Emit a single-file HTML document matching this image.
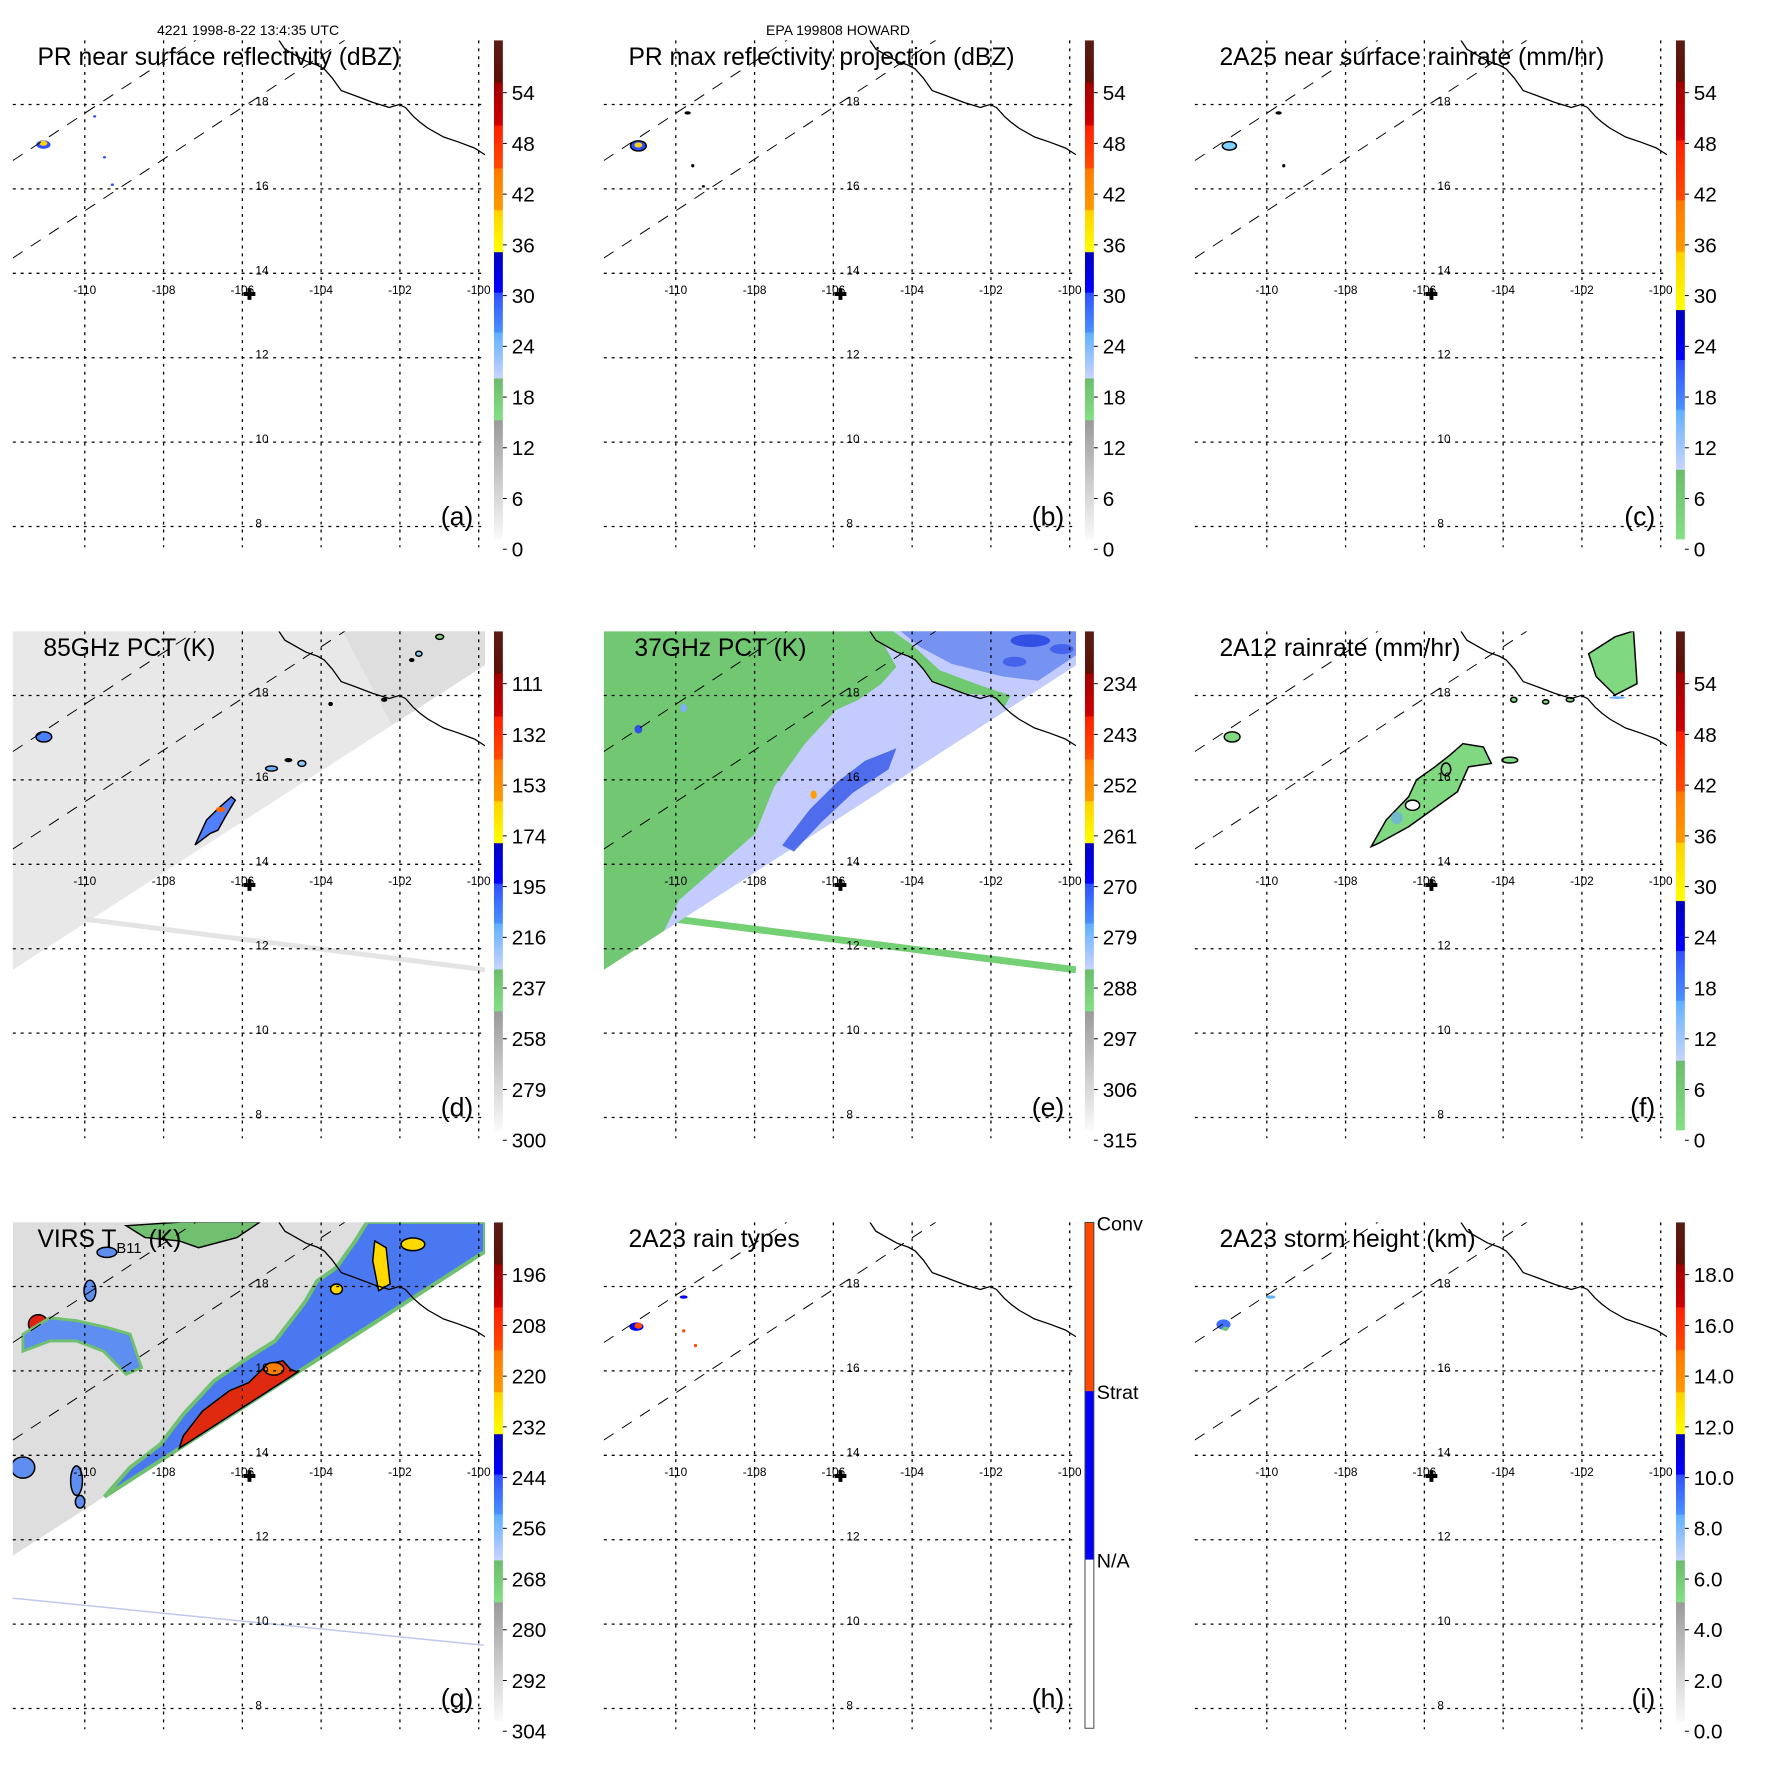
<!DOCTYPE html>
<html><head><meta charset="utf-8"><style>
html,body{margin:0;padding:0;background:#fff}
svg{display:block;font-family:"Liberation Sans",sans-serif}
</style></head><body>
<svg id="fig" width="1771" height="1771" viewBox="0 0 1771 1771" xmlns="http://www.w3.org/2000/svg">
<defs id="defs"></defs>
<text x="248" y="35" font-size="14" text-anchor="middle">4221 1998-8-22 13:4:35 UTC</text>
<text x="838" y="35" font-size="14" text-anchor="middle">EPA 199808 HOWARD</text>
</svg>
<script>
// ---------- data ----------
const lonTicks = [-110,-108,-106,-104,-102,-100];
const latTicks = [18,16,14,12,10,8];
const titles = ["PR near surface reflectivity (dBZ)","PR max reflectivity projection (dBZ)","2A25 near surface rainrate (mm/hr)",
 "85GHz PCT (K)","37GHz PCT (K)","2A12 rainrate (mm/hr)","VIRS T_B11 (K)","2A23 rain types","2A23 storm height (km)"];
const letters = ["(a)","(b)","(c)","(d)","(e)","(f)","(g)","(h)","(i)"];
const labelsA = ["54","48","42","36","30","24","18","12","6","0"];
const labelsD = ["111","132","153","174","195","216","237","258","279","300"];
const labelsE = ["234","243","252","261","270","279","288","297","306","315"];
const labelsG = ["196","208","220","232","244","256","268","280","292","304"];
const labelsI = ["18.0","16.0","14.0","12.0","10.0","8.0","6.0","4.0","2.0","0.0"];
const labelsH = ["Conv","Strat","N/A"];
const panelLabels = [labelsA,labelsA,labelsA,labelsD,labelsE,labelsA,labelsG,labelsH,labelsI];
const barTypes = ["A","A","C","A","A","C","A","H","A"];
const coastLon = [-105.07,-104.92,-104.39,-104.09,-103.92,-103.72,-103.49,-103.14,-102.69,-102.27,-102.02,-101.86,-101.66,-101.49,-101.29,-100.89,-100.51,-100.11,-99.84];
const coastLat = [19.52,19.31,19.03,18.93,18.84,18.63,18.33,18.21,18.05,17.93,18.0,17.93,17.72,17.58,17.44,17.23,17.11,16.97,16.81];
const swathUpper = [[-111.83,16.67],[-107.17,19.53]];
const swathLower = [[-111.83,14.36],[-103.39,19.53]];
const center = [-105.82,13.51];

const stopsA=[[0,"#5a1c16"],[.084,"#5c1008"],[.085,"#a00000"],[.17,"#d00000"],[.171,"#ff2000"],[.256,"#ff4a00"],[.257,"#ff7800"],[.34,"#ff9a00"],[.341,"#ffd200"],[.424,"#ffff00"],[.425,"#0000c0"],[.505,"#0000ff"],[.506,"#3050ff"],[.585,"#4a90ff"],[.586,"#60b0ff"],[.677,"#c8d4ff"],[.678,"#6cbc6c"],[.761,"#84e084"],[.762,"#9a9a9a"],[1,"#fafafa"]];
const stopsC=[[0,"#5a1c16"],[.082,"#5c1008"],[.083,"#a00000"],[.2,"#d00000"],[.201,"#ff2000"],[.32,"#ff4a00"],[.321,"#ff7800"],[.423,"#ff9a00"],[.424,"#ffd200"],[.54,"#ffff00"],[.541,"#0000c0"],[.64,"#0000ff"],[.641,"#3050ff"],[.74,"#4a90ff"],[.741,"#60b0ff"],[.86,"#c8d4ff"],[.861,"#6cbc6c"],[1,"#84e084"]];
const stopsH=[[0,"#ff4a00"],[.333,"#ff4a00"],[.334,"#0000ff"],[.666,"#0000ff"],[.667,"#ffffff"],[1,"#ffffff"]];

// features per panel: polygons / ellipses in lon-lat
const F = [
 [ {e:[-111.05,17.05,.18,.1],f:"#3050ff"},{e:[-111.05,17.08,.1,.06],f:"#ffd200"},{e:[-109.75,17.72,.04,.03],f:"#3050ff"},{e:[-109.5,16.75,.04,.03],f:"#3050ff"},{e:[-109.3,16.1,.04,.03],f:"#3050ff"}],
 [ {e:[-110.95,17.02,.2,.12],f:"#3050ff",s:"#000"},{e:[-110.95,17.04,.1,.06],f:"#ffd200"},{e:[-109.7,17.8,.08,.04],f:"#000"},{e:[-109.57,16.55,.04,.04],f:"#000"},{e:[-109.3,16.06,.04,.03],f:"#000"}],
 [ {e:[-110.95,17.02,.18,.1],f:"#80d0ff",s:"#000"},{e:[-109.7,17.8,.08,.04],f:"#000"},{e:[-109.57,16.55,.04,.04],f:"#000"}],
 [ {p:[[-107.2,14.46],[-106.91,15.05],[-106.57,15.36],[-106.28,15.6],[-106.18,15.52],[-106.43,15.13],[-106.62,14.81],[-106.82,14.73]],f:"#5080ff",s:"#000"},
   {e:[-106.55,15.3,.12,.06],f:"#ff6000"},{e:[-111.04,17.02,.2,.12],f:"#4a80ff",s:"#000"},
   {e:[-105.26,16.27,.15,.06],f:"#6ab0ff",s:"#000"},{e:[-104.49,16.39,.1,.07],f:"#90c8ff",s:"#000"},{e:[-104.83,16.47,.1,.05],f:"#000"},
   {e:[-100.99,19.39,.1,.06],f:"#80d080",s:"#000"},{e:[-101.52,18.99,.08,.06],f:"#80d0ff",s:"#000"},{e:[-101.7,18.84,.07,.05],f:"#000"},
   {e:[-103.76,17.8,.06,.05],f:"#000"},{e:[-102.4,17.9,.08,.05],f:"#000"}],
 [ {p:[[-110.3,12.42],[-109.92,13.15],[-108.95,13.94],[-107.98,14.73],[-107.5,15.84],[-106.72,16.86],[-105.94,17.65],[-105.36,17.9],[-104.78,18.28],[-104.4,18.68],[-104.78,19.31],[-104.97,19.53],[-99.84,19.53],[-99.84,18.72]],f:"#c4ccff"},
   {p:[[-105.07,19.53],[-104.92,19.31],[-104.39,19.03],[-103.92,18.84],[-103.49,18.33],[-102.69,18.05],[-102.02,18.0],[-101.66,17.72],[-101.5,18.0],[-102.3,18.25],[-103.3,18.6],[-104.0,19.2],[-104.5,19.53]],f:"#70c870"},
   {p:[[-104.3,19.53],[-99.84,19.53],[-99.84,18.95],[-100.8,18.35],[-101.7,18.45],[-103,18.75],[-103.8,19.15]],f:"#6a88f0",o:.85},
   {e:[-101,19.3,.5,.15],f:"#2040e0",o:.8},{e:[-101.4,18.8,.3,.12],f:"#3050e8",o:.7},{e:[-100.2,19.1,.3,.12],f:"#3050e8",o:.7},
   {p:[[-107.3,14.45],[-106.6,15.3],[-105.9,15.95],[-105.2,16.45],[-104.4,16.75],[-104.6,16.25],[-105.5,15.7],[-106.3,15.0],[-107.0,14.3]],f:"#3a5ae8",o:.85},
   {e:[-106.5,15.65,.08,.1],f:"#ffa000"},{e:[-110.95,17.2,.1,.1],f:"#3050e8"},{e:[-109.8,17.7,.08,.1],f:"#80b0ff"}],
 [ {p:[[-107.35,14.42],[-106.97,15.05],[-106.4,15.6],[-106.2,16.0],[-105.73,16.31],[-105.35,16.59],[-105.02,16.86],[-104.5,16.78],[-104.3,16.39],[-104.88,16.31],[-105.16,15.72],[-106.4,14.89],[-107.16,14.5]],f:"#80d880",s:"#000"},
   {e:[-106.3,15.4,.18,.12],f:"#fff",s:"#000"},{e:[-105.45,16.25,.12,.15],f:"#80d880",s:"#000"},{e:[-106.7,15.1,.15,.15],f:"#6aa8ff",o:.6},
   {p:[[-101.83,18.99],[-101.16,19.39],[-100.69,19.53],[-100.6,18.28],[-101.16,18.01],[-101.64,18.45]],f:"#80d880",s:"#000"},
   {e:[-110.88,17.02,.2,.12],f:"#80d880",s:"#000"},{e:[-103.73,17.9,.08,.06],f:"#80d880",s:"#000"},{e:[-102.92,17.85,.08,.05],f:"#80d880",s:"#000"},{e:[-102.3,17.9,.1,.05],f:"#80d880",s:"#000"},
   {e:[-103.83,16.47,.2,.07],f:"#80d880",s:"#000"},{e:[-101.1,17.95,.2,.03],f:"#6ab0ff"}],
 [ {p:[[-109.5,13.02],[-108.85,13.71],[-108.08,14.26],[-107.5,14.97],[-106.72,15.76],[-105.84,16.32],[-105.17,16.71],[-104.58,17.42],[-104.39,17.66],[-104.1,18.13],[-103.61,18.45],[-103.13,19.08],[-102.83,19.53],[-99.84,19.53],[-99.84,18.83]],f:"#4a78f0",s:"#70c070",w:4},
   {p:[[-107.5,14.46],[-107.01,15.05],[-106.33,15.53],[-105.84,15.72],[-105.36,16.16],[-104.97,16.24],[-104.78,16.04],[-104.6,15.97],[-107.6,14.17]],f:"#e02a10",s:"#000"},
   {e:[-105.2,16.05,.25,.15],f:"#ff8000",s:"#000"},
   {e:[-111.18,17.11,.25,.22],f:"#e02010",s:"#000"},
   {p:[[-111.57,16.87],[-110.89,17.26],[-110.21,17.19],[-109.44,17.03],[-108.85,16.87],[-108.56,16.08],[-108.95,15.92],[-109.53,16.47],[-110.21,16.71],[-110.89,16.71],[-111.57,16.47]],f:"#5d8ef0",s:"#70c070",w:3},
   {p:[[-102.64,19.08],[-102.35,18.92],[-102.25,18.06],[-102.54,17.9],[-102.69,18.61]],f:"#ffd800",s:"#000"},
   {e:[-101.67,19.0,.3,.15],f:"#ffd800",s:"#000"},{e:[-103.61,17.94,.15,.12],f:"#ffd800",s:"#000"},
   {p:[[-108.95,19.44],[-107.5,19.53],[-105.55,19.53],[-106.14,19.16],[-107.11,18.92],[-107.6,19.08],[-108.47,19.16]],f:"#70c070",s:"#000"},
   {e:[-111.57,13.71,.3,.25],f:"#5d8ef0",s:"#000"},{e:[-110.21,13.4,.15,.35],f:"#5d8ef0",s:"#000"},{e:[-110.12,12.9,.12,.15],f:"#5d8ef0",s:"#000"},
   {e:[-109.87,17.9,.15,.25],f:"#5d8ef0",s:"#000"},{e:[-109.44,18.81,.25,.12],f:"#5d8ef0",s:"#000"}],
 [ {e:[-111.0,17.05,.18,.1],f:"#0000ff"},{e:[-110.95,17.07,.1,.07],f:"#ff4a00"},{e:[-109.8,17.75,.1,.04],f:"#0000ff"},{e:[-109.8,16.95,.04,.04],f:"#ff4a00"},{e:[-109.5,16.6,.04,.04],f:"#ff4a00"}],
 [ {e:[-111.1,17.1,.18,.12],f:"#4070ff"},{e:[-111.05,17.0,.08,.05],f:"#70c870"},{e:[-109.9,17.75,.12,.04],f:"#60b0ff"}]
];

// ---------- drawing ----------
const NS="http://www.w3.org/2000/svg";
const svg=document.getElementById('fig'), defs=document.getElementById('defs');
function mk(tag,attrs,parent){const e=document.createElementNS(NS,tag);for(const k in attrs)e.setAttribute(k,attrs[k]);(parent||svg).appendChild(e);return e;}

for(let i=0;i<9;i++){
 const ox=(i%3)*591, oy=Math.floor(i/3)*591;
 const X=lon=>ox+86+(lon+110)*39.95, Y=lat=>oy+106+(18-lat)*42.8;
 const g=mk('g',{transform:`translate(${ox},${oy}) scale(0.986) translate(${-ox},${-oy})`});
 
 
 const cp=mk('clipPath',{id:'cp'+i},defs);
 mk('rect',{x:ox+13,y:oy+41,width:479,height:514},cp);
 const map=mk('g',{'clip-path':'url(#cp'+i+')'},g);
 
 
 const edgeL = i===6?11.62:11.5, edgeR = i===6?18.84:18.72;
 if(i===3||i===4||i===6){
  const bg = i===3?"#e8e8e8":i===4?"#72c872":"#dedede";
  const sw=mk('polygon',{points:[[X(-111.83),Y(19.6)],[X(-99.84),Y(19.6)],[X(-99.84),Y(edgeR)],[X(-111.83),Y(edgeL)]].map(p=>p.join(',')).join(' '),fill:bg},map);
  
  
  if(i===3){mk('polygon',{points:[[X(-103.5),Y(19.6)],[X(-99.84),Y(19.6)],[X(-99.84),Y(18.72)],[X(-102.2),Y(17.3)]].map(p=>p.join(',')).join(' '),fill:"#dedede"},map);}
  const ln = i===6 ? [[-111.88,10.62],[-99.87,9.5],"#c0c8f0",1.5] : [[-110,12.7],[-99.84,11.5],i===3?"#e4e4e4":"#74d074",i===3?5:7];
  const tl=mk('line',{x1:X(ln[0][0]),y1:Y(ln[0][1]),x2:X(ln[1][0]),y2:Y(ln[1][1]),stroke:ln[2],'stroke-width':ln[3]},map);
  
  
 }
 for(const ft of F[i]){
  let el;
  if(ft.e){el=mk('ellipse',{cx:X(ft.e[0]),cy:Y(ft.e[1]),rx:ft.e[2]*39.95,ry:ft.e[3]*42.8,fill:ft.f},map);}
  else{el=mk('polygon',{points:ft.p.map(q=>X(q[0])+','+Y(q[1])).join(' '),fill:ft.f},map);}
  if(ft.s){el.setAttribute('stroke',ft.s);el.setAttribute('stroke-width',ft.w||1.5);}
  if(ft.o)el.setAttribute('opacity',ft.o);
  
  
 }
 for(const s of [swathUpper,swathLower]){
  const l=mk('line',{x1:X(s[0][0]),y1:Y(s[0][1]),x2:X(s[1][0]),y2:Y(s[1][1]),stroke:"#000",'stroke-width':1,'stroke-dasharray':'12 10'},map);
  
  
 }
 const cl=mk('polyline',{points:coastLon.map((v,k)=>X(v)+','+Y(coastLat[k])).join(' '),fill:'none',stroke:'#000','stroke-width':1.3},map);
 
 
 for(const lt of latTicks){
  const l=mk('line',{x1:ox+13,x2:ox+492,y1:Y(lt),y2:Y(lt),stroke:'#000','stroke-width':1.3,'stroke-dasharray':'3 5'},g);
  
  
  const t=mk('text',{x:ox+259,y:Y(lt)+1,'font-size':12},g);t.textContent=lt;
  
  
 }
 for(const ln of lonTicks){
  const l=mk('line',{x1:X(ln),x2:X(ln),y1:oy+41,y2:oy+555,stroke:'#000','stroke-width':1.3,'stroke-dasharray':'3 5'},g);
  
  
  const t=mk('text',{x:X(ln),y:oy+298,'font-size':12,'text-anchor':'middle'},g);t.textContent=ln;
  
  
 }
 const cx=X(center[0]),cy=Y(center[1]);
 const cr=mk('path',{d:`M${cx-6} ${cy-2}h12v4h-12z M${cx-2} ${cy-6}h4v12h-4z`,fill:'#000'},g);
 
 
 const tt=mk('text',{x:ox+((i===3||i===4)?44:38),y:oy+66,'font-size':25},g);
 
 
 if(i===6){tt.textContent="VIRS T";const sb=mk('tspan',{'font-size':15,dy:6},tt);sb.textContent="B11";const r=mk('tspan',{dy:-6},tt);r.textContent=" (K)";}
 else tt.textContent=titles[i];
 const lt=mk('text',{x:ox+480,y:oy+533,'font-size':27,'text-anchor':'end'},g);lt.textContent=letters[i];
 
 
 const st = barTypes[i]==="A"?stopsA:barTypes[i]==="C"?stopsC:stopsH;
 const gr=mk('linearGradient',{id:'gr'+i,x1:0,y1:0,x2:0,y2:1},defs);
 for(const s of st)mk('stop',{offset:s[0],'stop-color':s[1]},gr);
 const cb=mk('g',{},g);
 
 
 if(barTypes[i]==="H"){
  mk('rect',{x:ox+501,y:oy+41,width:9,height:513,fill:'url(#gr'+i+')',stroke:'#444','stroke-width':1},cb);
  labelsH.forEach((s,k)=>{const t=mk('text',{x:ox+513,y:oy+41+k*171+8,'font-size':20},cb);t.textContent=s;
   
   });
 } else {
  mk('rect',{x:ox+501,y:oy+41,width:9,height:506,fill:'url(#gr'+i+')'},cb);
  panelLabels[i].forEach((s,k)=>{const y=oy+94+k*51.45;
   mk('line',{x1:ox+510,x2:ox+514,y1:y,y2:y,stroke:'#000','stroke-width':1},cb);
   const t=mk('text',{x:ox+519,y:y+7.5,'font-size':21},cb);t.textContent=s;
   
   });
 }
}
</script>
</body></html>
